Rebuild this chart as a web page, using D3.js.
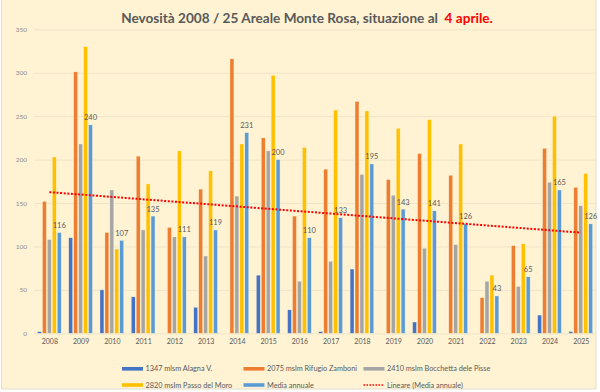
<!DOCTYPE html>
<html><head><meta charset="utf-8">
<script src="https://cdn.jsdelivr.net/npm/d3@7"></script>
<style>html,body{margin:0;padding:0;background:#fff;}svg{display:block;}</style>
</head><body>
<svg id="c" width="600" height="392"></svg>
<script>
const years = ["2008","2009","2010","2011","2012","2013","2014","2015","2016","2017","2018","2019","2020","2021","2022","2023","2024","2025"];
const alagna  = [2,110,50,42,0,30,0,67,27,2,74,0,13,0,0,0,21,2];
const zamboni = [152,301,116,204,122,166,316,225,135,189,267,177,207,182,41,101,213,168];
const pisse   = [108,218,165,119,111,89,158,210,60,83,183,159,98,102,60,54,174,147];
const moro    = [203,330,97,172,210,187,218,297,214,257,256,236,246,218,67,103,250,184];
const media   = [116,240,107,135,111,119,231,200,110,133,195,143,141,126,43,65,165,126];
const yTicks  = [0,50,100,150,200,250,300,350];
const seriesNames = ["1347 mlsm Alagna V.","2075 mslm Rifugio Zamboni","2410 mslm Bocchetta dele Pisse","2820 mslm Passo del Moro","Media annuale"];
const trendName = "Lineare (Media annuale)";
const titleMain = "Nevosità 2008 / 25 Areale Monte Rosa, situazione al ";
const titleRed = "4 aprile.";

const colors = ["#4472C4","#ED7D31","#A5A5A5","#FFC000","#5B9BD5"];
const series = [alagna, zamboni, pisse, moro, media];
const font = "Lato, 'Open Sans', sans-serif";

const svg = d3.select("#c");
svg.append("rect").attr("x",1.5).attr("y",-1).attr("width",594.5).attr("height",390)
  .attr("fill","#FFF3D3").attr("stroke","#E2DDD0").attr("stroke-width",1);

const x = d3.scaleBand().domain(years).range([33.7,596.4]).paddingInner(0.24).paddingOuter(0.12);
const xc = d3.scalePoint().domain(years).range([33.7,596.4]).padding(0.5);
const xs = d3.scaleBand().domain(d3.range(5)).range([0,x.bandwidth()]).paddingInner(0.2);
const y = d3.scaleLinear().domain([0,350]).range([333.3,29.3]);

// grid
svg.append("g").selectAll("line").data(yTicks).join("line")
  .attr("x1",34).attr("x2",596).attr("y1",d=>y(d)+0.5).attr("y2",d=>y(d)+0.5)
  .attr("stroke","#EFE4C8").attr("stroke-width",1);

// y axis labels
const yAxis = svg.append("g").attr("transform","translate(27,0)")
  .call(d3.axisLeft(y).tickValues(yTicks).tickSize(0).tickPadding(0));
yAxis.select(".domain").remove();
yAxis.selectAll("text").attr("font-family",font).attr("font-size",6.5).attr("fill","#8C8C8C");

// x axis labels
const xAxis = svg.append("g").attr("transform","translate(0,340)")
  .call(d3.axisBottom(xc).tickSize(0).tickPadding(0));
xAxis.select(".domain").remove();
xAxis.selectAll("text").attr("font-family",font).attr("font-size",7).attr("fill","#595959").attr("dy","0.6em");

// bars
series.forEach((arr,si)=>{
  svg.append("g").selectAll("rect").data(arr.map((v,i)=>({v,yr:years[i]}))).join("rect")
    .attr("x",d=>x(d.yr)+xs(si))
    .attr("width",xs.bandwidth())
    .attr("y",d=>y(d.v))
    .attr("height",d=>y(0)-y(d.v))
    .attr("fill",colors[si])
    .attr("stroke","#FFF3D3").attr("stroke-width",0.4);
});

// data labels
svg.append("g").selectAll("text").data(media.map((v,i)=>({v,yr:years[i]}))).join("text")
  .attr("x",d=>x(d.yr)+xs(4)+xs.bandwidth()/2)
  .attr("y",d=>y(d.v)-4.5)
  .attr("text-anchor","middle")
  .attr("font-family",font).attr("font-size",7.5).attr("fill","#595959")
  .text(d=>d.v);

// trend line (least squares on media)
const n = media.length;
const xi = d3.range(1,n+1);
const mx = d3.mean(xi), my = d3.mean(media);
const slope = d3.sum(xi.map((v,i)=>(v-mx)*(media[i]-my)))/d3.sum(xi.map(v=>(v-mx)*(v-mx)));
const icpt = my - slope*mx;
svg.append("line")
  .attr("x1",xc(years[0])).attr("x2",xc(years[n-1]))
  .attr("y1",y(icpt+slope*1)).attr("y2",y(icpt+slope*n))
  .attr("stroke","#FF0000").attr("stroke-width",2).attr("stroke-dasharray","2,1.6");

// title
const t = svg.append("text").attr("x",307).attr("y",23).attr("text-anchor","middle")
  .attr("font-family",font).attr("font-weight","bold").attr("font-size",13).attr("fill","#595959");
t.append("tspan").text(titleMain).attr("xml:space","preserve");
t.append("tspan").text("\u00A0"+titleRed).attr("fill","#FF0000");
const tw = t.node().getComputedTextLength();
t.attr("font-size",13*372/tw);

// legend
const legX = [122,243.5,363.5];
const legY = [368.8,385];
const items = seriesNames.map((s,i)=>({name:s,color:colors[i],type:"bar"})).concat([{name:trendName,color:"#FF0000",type:"trend"}]);
items.forEach((it,i)=>{
  const lx = legX[i%3], ly = legY[Math.floor(i/3)];
  if(it.type==="bar"){
    svg.append("rect").attr("x",lx).attr("y",ly-1.8).attr("width",21).attr("height",3.6).attr("fill",it.color);
  } else {
    svg.append("line").attr("x1",lx).attr("x2",lx+20).attr("y1",ly).attr("y2",ly)
      .attr("stroke",it.color).attr("stroke-width",1.6).attr("stroke-dasharray","1.6,1.4");
  }
  svg.append("text").attr("x",lx+23.5).attr("y",ly).attr("dy","0.35em")
    .attr("font-family",font).attr("font-size",7.3).attr("fill","#595959").text(it.name);
});
</script>
</body></html>
